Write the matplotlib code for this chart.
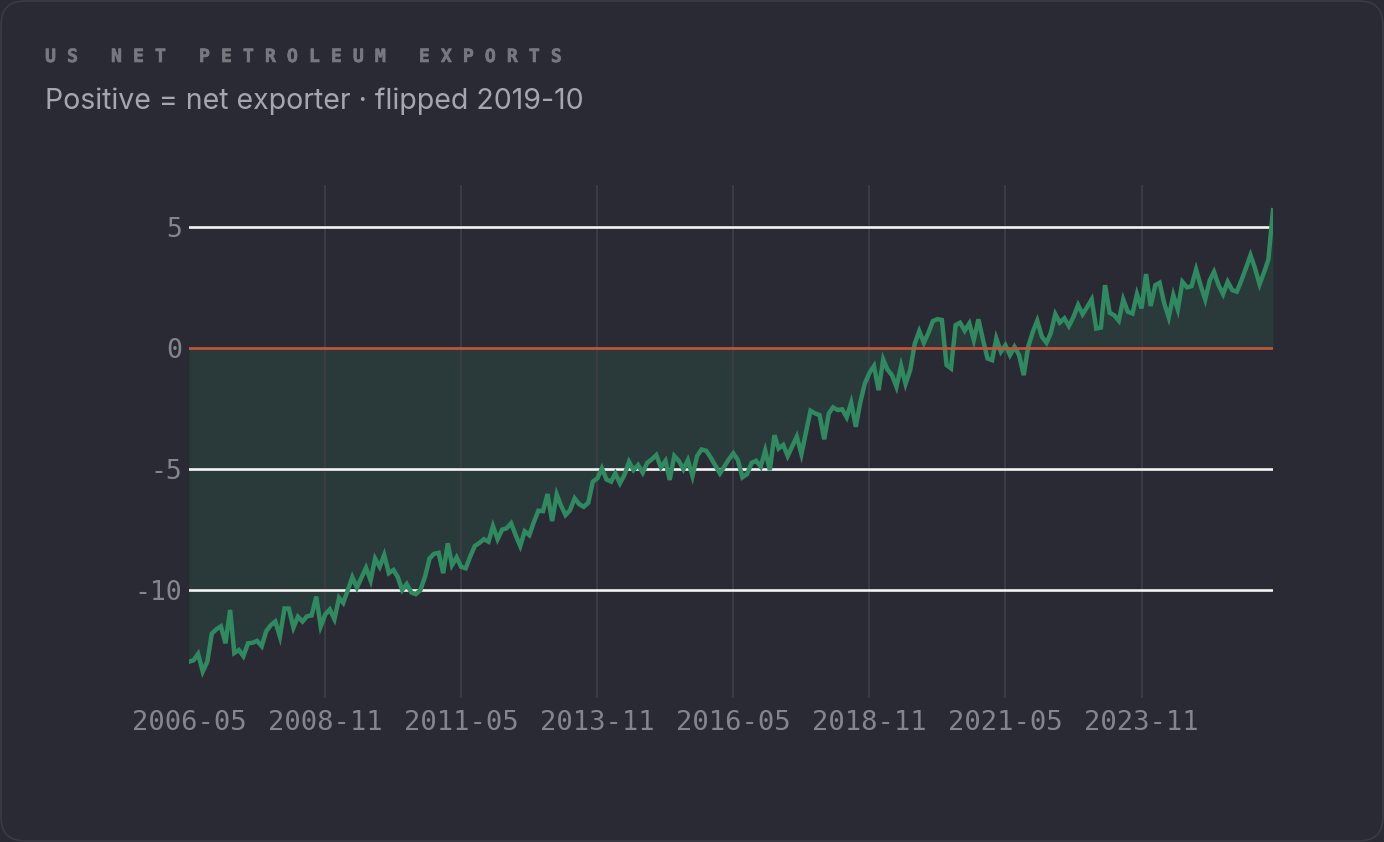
import matplotlib
matplotlib.use("Agg")
import matplotlib.pyplot as plt
import matplotlib.patheffects as pe
from matplotlib.patches import FancyBboxPatch
import pandas as pd

# ---------------- data ----------------
start_month = "2006-05"
net_exports = [
    -12.96, -12.9, -12.64, -13.37, -12.96, -11.8, -11.62, -11.5, -12.2, -10.82,
    -12.6, -12.48, -12.73, -12.2, -12.18, -12.1, -12.32, -11.7, -11.45, -11.3,
    -11.92, -10.76, -10.76, -11.55, -11.1, -11.3, -11.08, -11.05, -10.27, -11.5,
    -11.0, -10.8, -11.2, -10.32, -10.53, -10.0, -9.47, -9.9, -9.5, -9.08,
    -9.6, -8.7, -9.04, -8.55, -9.3, -9.17, -9.45, -10.0, -9.75, -10.1,
    -10.17, -10.0, -9.45, -8.7, -8.5, -8.46, -9.3, -8.07, -8.97, -8.65,
    -9.04, -9.1, -8.62, -8.18, -8.05, -7.9, -8.0, -7.36, -7.9, -7.5,
    -7.45, -7.24, -7.73, -8.18, -7.57, -7.73, -7.18, -6.72, -6.74, -6.03,
    -7.15, -6.05, -6.5, -6.9, -6.7, -6.21, -6.45, -6.56, -6.39, -5.52,
    -5.38, -4.97, -5.43, -5.52, -5.18, -5.59, -5.25, -4.7, -5.04, -4.83,
    -5.15, -4.74, -4.6, -4.42, -4.93, -4.66, -5.45, -4.46, -4.66, -5.01,
    -4.63, -5.29, -4.46, -4.19, -4.24, -4.52, -4.85, -5.18, -4.9, -4.6,
    -4.35, -4.63, -5.34, -5.21, -4.74, -4.66, -4.9, -4.24, -5.04, -3.6,
    -4.15, -4.0, -4.46, -4.05, -3.66, -4.38, -3.46, -2.59, -2.7, -2.77,
    -3.77, -2.7, -2.45, -2.56, -2.53, -2.86, -2.26, -3.25, -2.22, -1.46,
    -1.02, -0.74, -1.74, -0.47, -0.88, -1.12, -1.6, -0.74, -1.48, -0.91,
    0.19, 0.7, 0.22, 0.63, 1.12, 1.2, 1.16, -0.7, -0.84, 0.95,
    1.05, 0.72, 1.02, 0.33, 1.19, 0.36, -0.43, -0.5, 0.4, -0.15,
    0.12, -0.29, 0.05, -0.29, -1.12, 0.05, 0.67, 1.13, 0.47, 0.22,
    0.61, 1.4, 1.05, 1.23, 0.91, 1.29, 1.78, 1.4, 1.7, 2.01,
    0.81, 0.85, 2.6, 1.46, 1.36, 1.13, 2.01, 1.5, 1.43, 2.23,
    1.64, 3.06, 1.74, 2.6, 2.7, 1.85, 1.27, 2.19, 1.6, 2.74,
    2.51, 2.56, 3.25, 2.6, 2.01, 2.81, 3.15, 2.6, 2.23, 2.74,
    2.4, 2.33, 2.8, 3.3, 3.84, 3.3, 2.64, 3.15, 3.66, 5.7,
]
x_tick_labels = ["2006-05", "2008-11", "2011-05", "2013-11",
                 "2016-05", "2018-11", "2021-05", "2023-11"]
y_ticks = [-10, -5, 0, 5]
title = "US NET PETROLEUM EXPORTS"
subtitle = "Positive = net exporter · flipped 2019-10"

# ---------------- style ----------------
BG = "#2a2a34"
LINE = "#2f8a60"
ZERO = "#c4553a"
GRID_H = "#f4f4f4"
GRID_V = "#3c3c46"
TICK = "#85858e"
TITLE_C = "#77777f"

plt.rcParams["axes.unicode_minus"] = False

dates = pd.date_range(start_month + "-01", periods=len(net_exports), freq="MS")
tick_dates = pd.to_datetime([t + "-01" for t in x_tick_labels])

W, H = 1384, 842
fig = plt.figure(figsize=(W / 100, H / 100), dpi=100, facecolor=BG)

card = FancyBboxPatch((1, 1), W - 2, H - 2,
                      boxstyle="round,pad=0,rounding_size=24",
                      transform=None, facecolor="none", edgecolor="#3b3b45",
                      linewidth=1.2, zorder=-1)
fig.patches.append(card)

ax_l, ax_r, ax_t, ax_b = 189, 1273, 185, 698
ax = fig.add_axes([ax_l / W, 1 - ax_b / H, (ax_r - ax_l) / W, (ax_b - ax_t) / H])
ax.set_facecolor("none")

ax.set_xlim(dates[0], dates[-1])
ax.set_ylim(-14.46, 6.74)

# fill between the curve and zero
ax.fill_between(dates, net_exports, 0, color=LINE, alpha=0.17, linewidth=0, zorder=1)

# vertical grid (none on the left edge)
for d in tick_dates[1:]:
    ax.axvline(d, color=GRID_V, linewidth=1.4, zorder=2)

# horizontal grid
for v in y_ticks:
    if v != 0:
        ax.axhline(v, color=GRID_H, linewidth=1.9, zorder=3)

ax.plot(dates, net_exports, color=LINE, linewidth=3.2, solid_joinstyle="miter",
        zorder=4)
ax.axhline(0, color=ZERO, linewidth=1.9, zorder=5)

for s in ax.spines.values():
    s.set_visible(False)

ax.set_xticks(tick_dates)
ax.set_xticklabels(x_tick_labels)
ax.set_yticks(y_ticks)
ax.set_yticklabels([str(v) for v in y_ticks])
ax.tick_params(axis="both", length=0, colors=TICK)
ax.tick_params(axis="x", pad=9, labelsize=19.5)
ax.tick_params(axis="y", pad=5, labelsize=19)
for lab in ax.get_xticklabels() + ax.get_yticklabels():
    lab.set_family("DejaVu Sans Mono")

fig.text(45 / W, 1 - 62 / H, "   ".join(" ".join(w) for w in title.split(" ")),
         family="DejaVu Sans Mono", weight="bold", fontsize=13.15,
         color=TITLE_C, va="baseline", ha="left",
         path_effects=[pe.withStroke(linewidth=0.45, foreground=TITLE_C)])
fig.text(45 / W, 1 - 109 / H, subtitle, family="Inter", fontsize=20.5,
         color="#a6a6ae", va="baseline", ha="left")

fig.savefig("out.png", dpi=100, facecolor=BG)
